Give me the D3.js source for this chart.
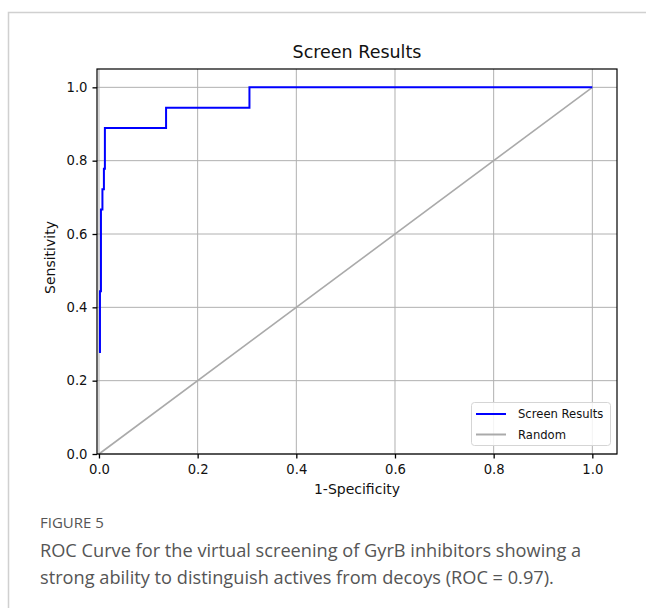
<!DOCTYPE html>
<html><head><meta charset="utf-8">
<script src="https://cdn.jsdelivr.net/npm/d3@7"></script>
<style>
body{margin:0;background:#fff;}
svg{display:block;}
</style></head>
<body>
<svg id="c" width="646" height="608"></svg>
<script>
const title = "Screen Results";
const xLabel = "1-Specificity";
const yLabel = "Sensitivity";
const seriesNames = ["Screen Results", "Random"];
const fpr = [0, 0.002, 0.002, 0.004, 0.004, 0.007, 0.007, 0.010, 0.010, 0.012, 0.012, 0.136, 0.136, 0.305, 0.305, 1.0];
const tpr = [0.278, 0.278, 0.444, 0.444, 0.667, 0.667, 0.722, 0.722, 0.778, 0.778, 0.889, 0.889, 0.944, 0.944, 1.0, 1.0];
const randomX = [0, 1];
const randomY = [0, 1];
const ticks = [0, 0.2, 0.4, 0.6, 0.8, 1.0];
const captionHead = "FIGURE 5";
const captionLines = ["ROC Curve for the virtual screening of GyrB inhibitors showing a",
  "strong ability to distinguish actives from decoys (ROC = 0.97)."];

const svg = d3.select("#c");
const font = "DejaVu Sans, sans-serif";
// card border
svg.append("path").attr("d","M8.5,608 V12.5 H646").attr("fill","none").attr("stroke","#d0d0d0").attr("stroke-width",1.5);

const L=97, R=617, T=69, B=454;
const x = d3.scaleLinear().domain([-0.004,1.05]).range([L,R]);
const y = d3.scaleLinear().domain([0,1.05]).range([B,T]);

const g = svg.append("g");
// grid
g.selectAll(".gx").data(ticks).join("line").attr("x1",d=>x(d)).attr("x2",d=>x(d)).attr("y1",T).attr("y2",B)
  .attr("stroke","#b0b0b0").attr("stroke-width",1);
g.selectAll(".gy").data(ticks).join("line").attr("y1",d=>y(d)).attr("y2",d=>y(d)).attr("x1",L).attr("x2",R)
  .attr("stroke","#b0b0b0").attr("stroke-width",1);

const line = d3.line().x(d=>x(d[0])).y(d=>y(d[1]));
g.append("path").datum(randomX.map((v,i)=>[v,randomY[i]])).attr("d",line).attr("fill","none")
  .attr("stroke","#aaaaaa").attr("stroke-width",1.6);
g.append("path").datum(fpr.map((v,i)=>[v,tpr[i]])).attr("d",line).attr("fill","none")
  .attr("stroke","#0000ff").attr("stroke-width",2);

// frame
g.append("rect").attr("x",L).attr("y",T).attr("width",R-L).attr("height",B-T).attr("fill","none").attr("stroke","#000").attr("stroke-width",1.2);

const xa = svg.append("g").attr("transform",`translate(0,${B})`)
  .call(d3.axisBottom(x).tickValues(ticks).tickFormat(d3.format(".1f")).tickSizeOuter(0).tickSize(4.5).tickPadding(6));
const ya = svg.append("g").attr("transform",`translate(${L},0)`)
  .call(d3.axisLeft(y).tickValues(ticks).tickFormat(d3.format(".1f")).tickSizeOuter(0).tickSize(4.5).tickPadding(5));
[xa,ya].forEach(a=>{a.select(".domain").remove();a.selectAll("text").attr("font-family",font).attr("font-size",13.2).attr("fill","#111");a.selectAll("line").attr("stroke","#000").attr("stroke-width",1.3);});

svg.append("text").attr("x",(L+R)/2).attr("y",58).attr("text-anchor","middle").attr("font-family",font).attr("font-size",17.5).attr("fill","#111").text(title);
svg.append("text").attr("x",(L+R)/2).attr("y",494).attr("text-anchor","middle").attr("font-family",font).attr("font-size",14).attr("fill","#111").text(xLabel);
svg.append("text").attr("transform",`translate(55,${(T+B)/2-4}) rotate(-90)`).attr("text-anchor","middle").attr("font-family",font).attr("font-size",14).attr("fill","#111").text(yLabel);

// legend
const lg = svg.append("g");
lg.append("rect").attr("x",471.5).attr("y",402.5).attr("width",139).attr("height",43).attr("rx",3).attr("fill","#fff").attr("fill-opacity",0.85).attr("stroke","#d5d5d5");
const lcol = ["#0000ff","#aaaaaa"];
seriesNames.forEach((n,i)=>{
  const yy = 414 + i*20.5;
  lg.append("line").attr("x1",476).attr("x2",506).attr("y1",yy).attr("y2",yy).attr("stroke",lcol[i]).attr("stroke-width",2);
  lg.append("text").attr("x",518).attr("y",yy+4).attr("font-family",font).attr("font-size",11.6).attr("fill","#111").text(n);
});

// caption
const cf = "Open Sans, sans-serif";
svg.append("text").attr("x",40).attr("y",528).attr("font-family",cf).attr("font-size",15).attr("fill","#555").text(captionHead);
captionLines.forEach((t,i)=>svg.append("text").attr("x",40).attr("y",557+i*27).attr("font-family",cf).attr("font-size",18.2).attr("fill","#555").text(t));
</script>
</body></html>
